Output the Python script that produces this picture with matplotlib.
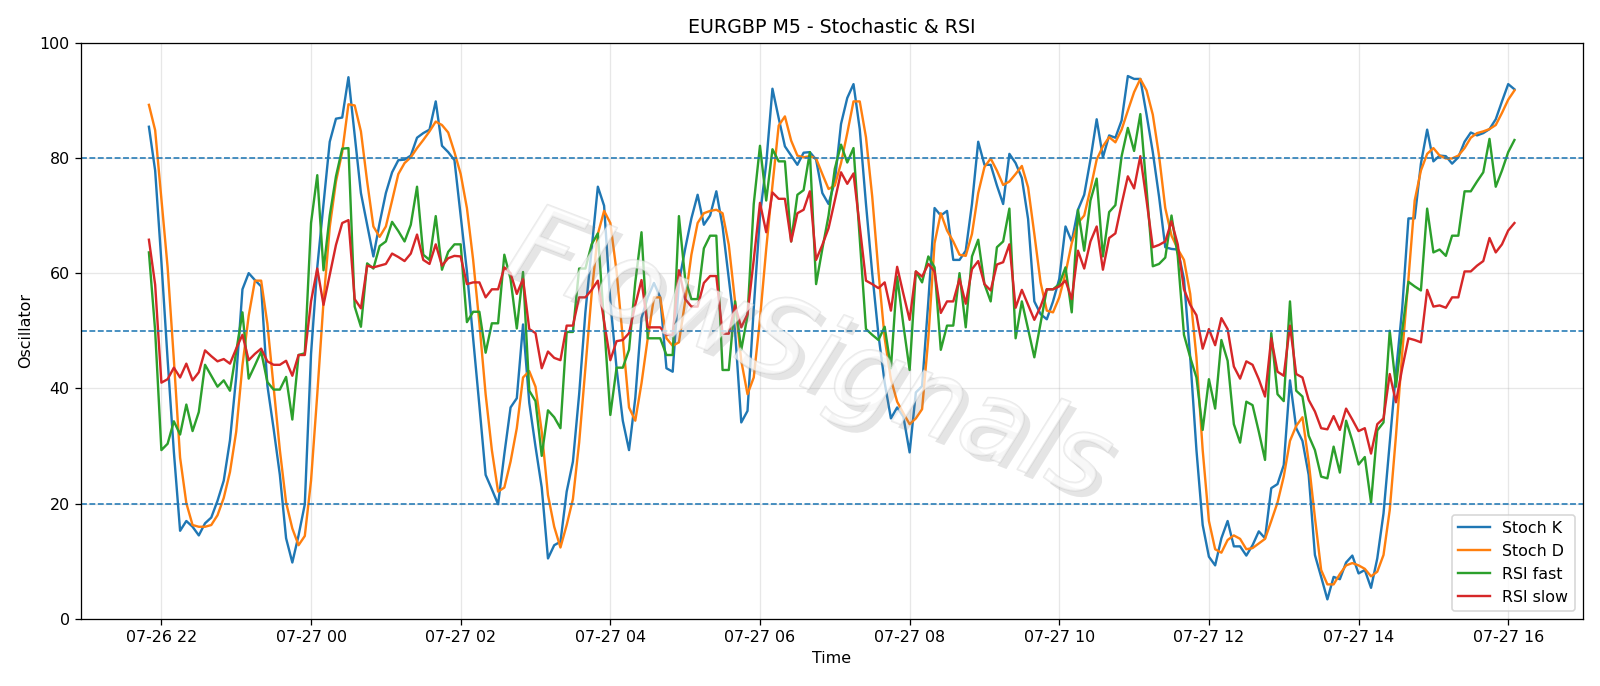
import matplotlib
matplotlib.use("Agg")
import matplotlib.pyplot as plt
import matplotlib.dates as mdates
import matplotlib.patheffects as pe
import pandas as pd

# 5 minute bars, 07-26 21:50 -> 07-27 16:05
start_time = "2024-07-26 21:50"
bar_freq = "5min"

stoch_k = [
    85.4, 77.8, 62, 45, 29, 15.3, 17, 16, 14.5, 16.6,
    17.6, 20.5, 24, 31, 42, 57.2, 60, 58.8, 57.7, 40.5,
    33, 25, 14, 9.8, 14.5, 19.9, 46, 61, 72, 82.8,
    86.8, 87, 94, 84, 73.9, 68.4, 62.9, 68.7, 73.9, 77.5,
    79.6, 79.7, 80.4, 83.5, 84.3, 84.9, 89.8, 82.1, 81, 79.6,
    70, 60.3, 48.7, 37, 25, 22.5, 19.9, 28.6, 36.7, 38.3,
    51.1, 37.5, 29.9, 22.8, 10.5, 12.8, 13.4, 22.1, 27.3, 39,
    53.2, 64.2, 75, 71.7, 55.1, 43.5, 34.4, 29.3, 38.3, 52.2,
    55.8, 58.3, 55.8, 43.5, 42.9, 58.4, 64.2, 69.5, 73.6, 68.4,
    70, 74.2, 68.1, 59, 50, 34.1, 36.1, 53.9, 70, 79,
    92, 86.9, 82, 80.4, 78.8, 80.9, 81, 79.7, 73.9, 72,
    75.9, 85.9, 90.4, 92.8, 85, 72, 60, 49.3, 41, 34.8,
    36.7, 35.1, 28.9, 39.3, 40.4, 55.1, 71.3, 70, 70.8, 62.3,
    62.3, 63.9, 72, 82.8, 78.8, 78.8, 75.2, 72, 80.7, 79.1,
    76.5, 69.4, 55.1, 52.9, 52, 55.1, 59, 68.1, 65.5, 71,
    73.6, 79.7, 86.7, 80.1, 83.9, 83.5, 86.5, 94.2, 93.7, 93.7,
    87.5, 81, 73.3, 64.5, 64.2, 64.1, 59, 45.4, 29.3, 16.3,
    10.8, 9.3, 14, 17, 12.6, 12.6, 11, 12.8, 15.2, 14,
    22.7, 23.4, 26.7, 41.4, 33.1, 30.9, 25, 11.1, 7.3, 3.4,
    7.3, 6.9, 9.8, 11, 7.9, 8.5, 5.4, 10.5, 18.3, 30.6,
    42.8, 53.9, 69.5, 69.5, 79, 84.9, 79.4, 80.4, 80.3, 79,
    80.1, 82.8, 84.4, 83.9, 84.3, 85, 86.7, 89.8, 92.8, 91.9,
]

stoch_d = [
    89.2, 84.8, 73, 61, 45, 28, 20.1, 16.3, 16, 16,
    16.3, 18, 21, 25.5, 32.5, 44, 52.6, 58.7, 58.7, 51.2,
    40.3, 29.3, 20.2, 15.7, 12.8, 14.4, 24, 39, 55, 68,
    75.9, 81, 89.3, 89.1, 84.6, 75.9, 68.1, 66.3, 68.1, 72.6,
    77.2, 79.1, 80.1, 81.7, 83.1, 84.6, 86.3, 85.7, 84.4, 81,
    77.2, 71.3, 62.3, 51.3, 39, 29.3, 22.1, 22.8, 27.3, 33.1,
    41.9, 43, 40.3, 32.5, 21.5, 16, 12.4, 16.3, 20.8, 30.6,
    43.5, 56.4, 66.8, 70.8, 68.7, 60.3, 48.7, 36.7, 34.4, 40.9,
    48.7, 55.8, 55.8, 48.7, 47.4, 48, 55.1, 63.2, 68.7, 70.4,
    70.8, 71, 70.4, 64.9, 55.1, 44.8, 39, 41.9, 52, 64.2,
    75.2, 85.6, 87.2, 83, 80.4, 80.1, 80.3, 79.9, 77.2, 74.6,
    75.2, 79.1, 84.3, 89.8, 89.8, 83.6, 73.3, 60.3, 48.7, 41.6,
    37.7, 35.7, 33.8, 34.8, 36.4, 48.7, 65.2, 70.4, 67.4, 65.5,
    63.2, 63, 66.8, 73.9, 78.4, 79.9, 77.8, 75.3, 75.9, 77.2,
    78.6, 74.9, 66.8, 58.4, 53.5, 53.2, 55.8, 60, 65.2, 68.7,
    70, 74.6, 79.7, 82, 83.6, 82.7, 84.9, 88.2, 91.4, 93.7,
    91.7, 87.5, 80.4, 71.3, 66.5, 64.2, 62.3, 56.4, 45.4, 29.3,
    17, 12.1, 11.5, 13.7, 14.5, 13.9, 12.1, 12.3, 13.1, 13.9,
    17, 20.2, 24.7, 30.9, 33.5, 35, 27.3, 17.6, 8.5, 6,
    6, 7.8, 9.3, 9.7, 9.3, 8.7, 7.4, 8.2, 11.1, 18.9,
    31.8, 46.1, 59, 72.6, 77.8, 80.7, 81.7, 80.4, 79.9, 79.9,
    80.4, 81.7, 83.5, 84.3, 84.6, 85, 85.7, 87.8, 90.1, 91.7,
]

rsi_fast = [
    63.6, 50, 29.3, 30.4, 34.3, 32, 37.2, 32.6, 35.9, 44.1,
    42.2, 40.3, 41.4, 39.6, 46.4, 53.2, 41.7, 44, 46.4, 41.1,
    39.8, 39.8, 42, 34.6, 45.8, 46.1, 68.7, 77, 60.5, 70,
    76.8, 81.6, 81.7, 54.2, 50.7, 61.7, 60.8, 64.7, 65.5, 68.9,
    67.3, 65.5, 68.4, 75, 63.2, 62.3, 69.9, 60.6, 63.7, 65,
    65, 51.5, 53.3, 53.3, 46.2, 51.3, 51.3, 63.2, 59, 50.4,
    60.2, 39.6, 37.8, 28.3, 36.2, 35, 33.1, 49.8, 49.8, 60.8,
    60.8, 65, 66.9, 51.3, 35.4, 43.6, 43.6, 46.7, 58.4, 67.1,
    48.7, 48.7, 48.7, 45.8, 45.8, 69.9, 59, 55.5, 55.5, 64.3,
    66.5, 66.5, 43.2, 43.2, 55.1, 46.7, 52.6, 72, 82.1, 72.6,
    81.5, 79.4, 79.4, 65.5, 73.6, 74.4, 81, 58.1, 64.2, 70,
    78.1, 82.3, 79.2, 81.7, 66.1, 50.3, 49.3, 48.4, 50.7, 43.5,
    59.4, 51, 43.2, 60.3, 58.4, 62.9, 61, 46.7, 50.9, 50.9,
    60, 50.6, 62.9, 65.8, 58.1, 55.1, 64.5, 65.5, 71.2, 48.7,
    55.1, 50.3, 45.4, 51.3, 57.2, 57.2, 58.1, 61, 53.2, 71,
    63.9, 72.6, 76.4, 62.9, 70.6, 71.8, 80.3, 85.2, 81.2, 87.6,
    74.6, 61.2, 61.6, 62.7, 70, 63, 49.3, 45.4, 41.9, 32.8,
    41.6, 36.5, 48.4, 44.8, 33.8, 30.6, 37.7, 37.1, 32.5, 27.6,
    49.6, 39, 37.8, 55.1, 39.6, 38.6, 31.8, 29.3, 24.7, 24.4,
    29.9, 25.4, 34.4, 30.9, 26.8, 28.1, 20.2, 32.7, 34.1, 50,
    40.3, 50, 58.5, 57.7, 57, 71.2, 63.6, 64.1, 63, 66.5,
    66.5, 74.2, 74.2, 75.9, 77.5, 83.3, 75, 77.8, 81, 83.1,
]

rsi_slow = [
    65.8, 58, 41, 41.6, 43.6, 41.9, 44.3, 41.4, 42.8, 46.6,
    45.6, 44.7, 45.1, 44.3, 46.9, 49.3, 44.9, 46, 46.9, 44.7,
    44.1, 44.1, 44.8, 42.2, 45.8, 45.8, 55.1, 60.8, 54.5, 59.7,
    64.9, 68.7, 69.2, 55.5, 53.9, 61.3, 61, 61.3, 61.6, 63.4,
    62.8, 62.1, 63.4, 66.7, 62.3, 61.6, 65, 61.3, 62.6, 63,
    62.9, 58.1, 58.4, 58.4, 55.8, 57.2, 57.2, 61, 60, 56.4,
    59, 50.3, 49.6, 43.5, 46.4, 45.3, 44.9, 50.9, 50.9, 55.8,
    55.8, 57.1, 58.7, 51.6, 44.9, 48.2, 48.4, 49.6, 54.5, 58.8,
    50.6, 50.6, 50.6, 49.3, 49.3, 60.5, 55.5, 54.2, 54.2, 58.3,
    59.5, 59.5, 49.5, 49.5, 54.4, 50.6, 52.9, 62.3, 72.2, 67.1,
    74, 72.9, 72.9, 65.5, 70.4, 71, 74.2, 62.3, 64.9, 67.8,
    72.6, 77.5, 75.5, 77.3, 68.1, 58.7, 58.1, 57.4, 58.4, 53.5,
    61.1, 56.4, 51.9, 60.3, 59.4, 61.6, 60.3, 53.1, 55.1, 55.1,
    59, 54.7, 60.7, 62.1, 58.1, 57, 61.5, 61.9, 65, 54,
    57.1, 54.5, 51.9, 54.2, 57.2, 57.2, 57.7, 58.7, 55.5, 63.9,
    60.8, 65.5, 68.1, 60.6, 66.1, 66.9, 72, 76.8, 74.7, 80.3,
    72.6, 64.5, 64.9, 65.5, 69, 65, 57.2, 54.5, 52.7, 46.9,
    50.3, 47.5, 52.2, 50.3, 43.8, 41.7, 44.7, 44.1, 41.6, 38.6,
    48.7, 42.9, 42.2, 50.9, 42.5, 41.9, 38, 36, 33.1, 32.9,
    35.2, 32.8, 36.5, 34.6, 32.6, 33.1, 28.7, 33.8, 34.8, 42.5,
    37.6, 43.5, 48.7, 48.4, 48, 57.1, 54.2, 54.4, 54, 55.8,
    55.8, 60.3, 60.3, 61.3, 62.1, 66.1, 63.6, 65, 67.4, 68.7,
]

levels = [80, 50, 20]

times = pd.date_range(start_time, periods=len(stoch_k), freq=bar_freq)

fig, ax = plt.subplots(figsize=(14, 6.003), dpi=1600 / 14)
fig.subplots_adjust(left=0.0504, right=0.9892, bottom=0.0977, top=0.9378)

ax.plot(times, stoch_k, label="Stoch K")
ax.plot(times, stoch_d, label="Stoch D")
ax.plot(times, rsi_fast, label="RSI fast")
ax.plot(times, rsi_slow, label="RSI slow")

for lvl in levels:
    ax.axhline(lvl, color="C0", linestyle="--", linewidth=1)

ax.set_ylim(0, 100)
ax.xaxis.set_major_locator(mdates.HourLocator(interval=2))
ax.xaxis.set_major_formatter(mdates.DateFormatter("%m-%d %H"))
ax.grid(True, alpha=0.3)
ax.set_title("EURGBP M5 - Stochastic & RSI")
ax.set_xlabel("Time")
ax.set_ylabel("Oscillator")
ax.legend(loc="lower right")

# watermark (faint hollow letters with soft shadow)
ax.text(0.485, 0.455, "FlowSignals", transform=ax.transAxes, fontsize=68,
        style="italic", color="white", alpha=0.35, rotation=-21,
        ha="center", va="center", zorder=5,
        path_effects=[pe.withSimplePatchShadow(offset=(4, -4), shadow_rgbFace="gray", alpha=0.2),
                      pe.withStroke(linewidth=1.2, foreground="#c4c4c4")])

fig.savefig("out.png")
